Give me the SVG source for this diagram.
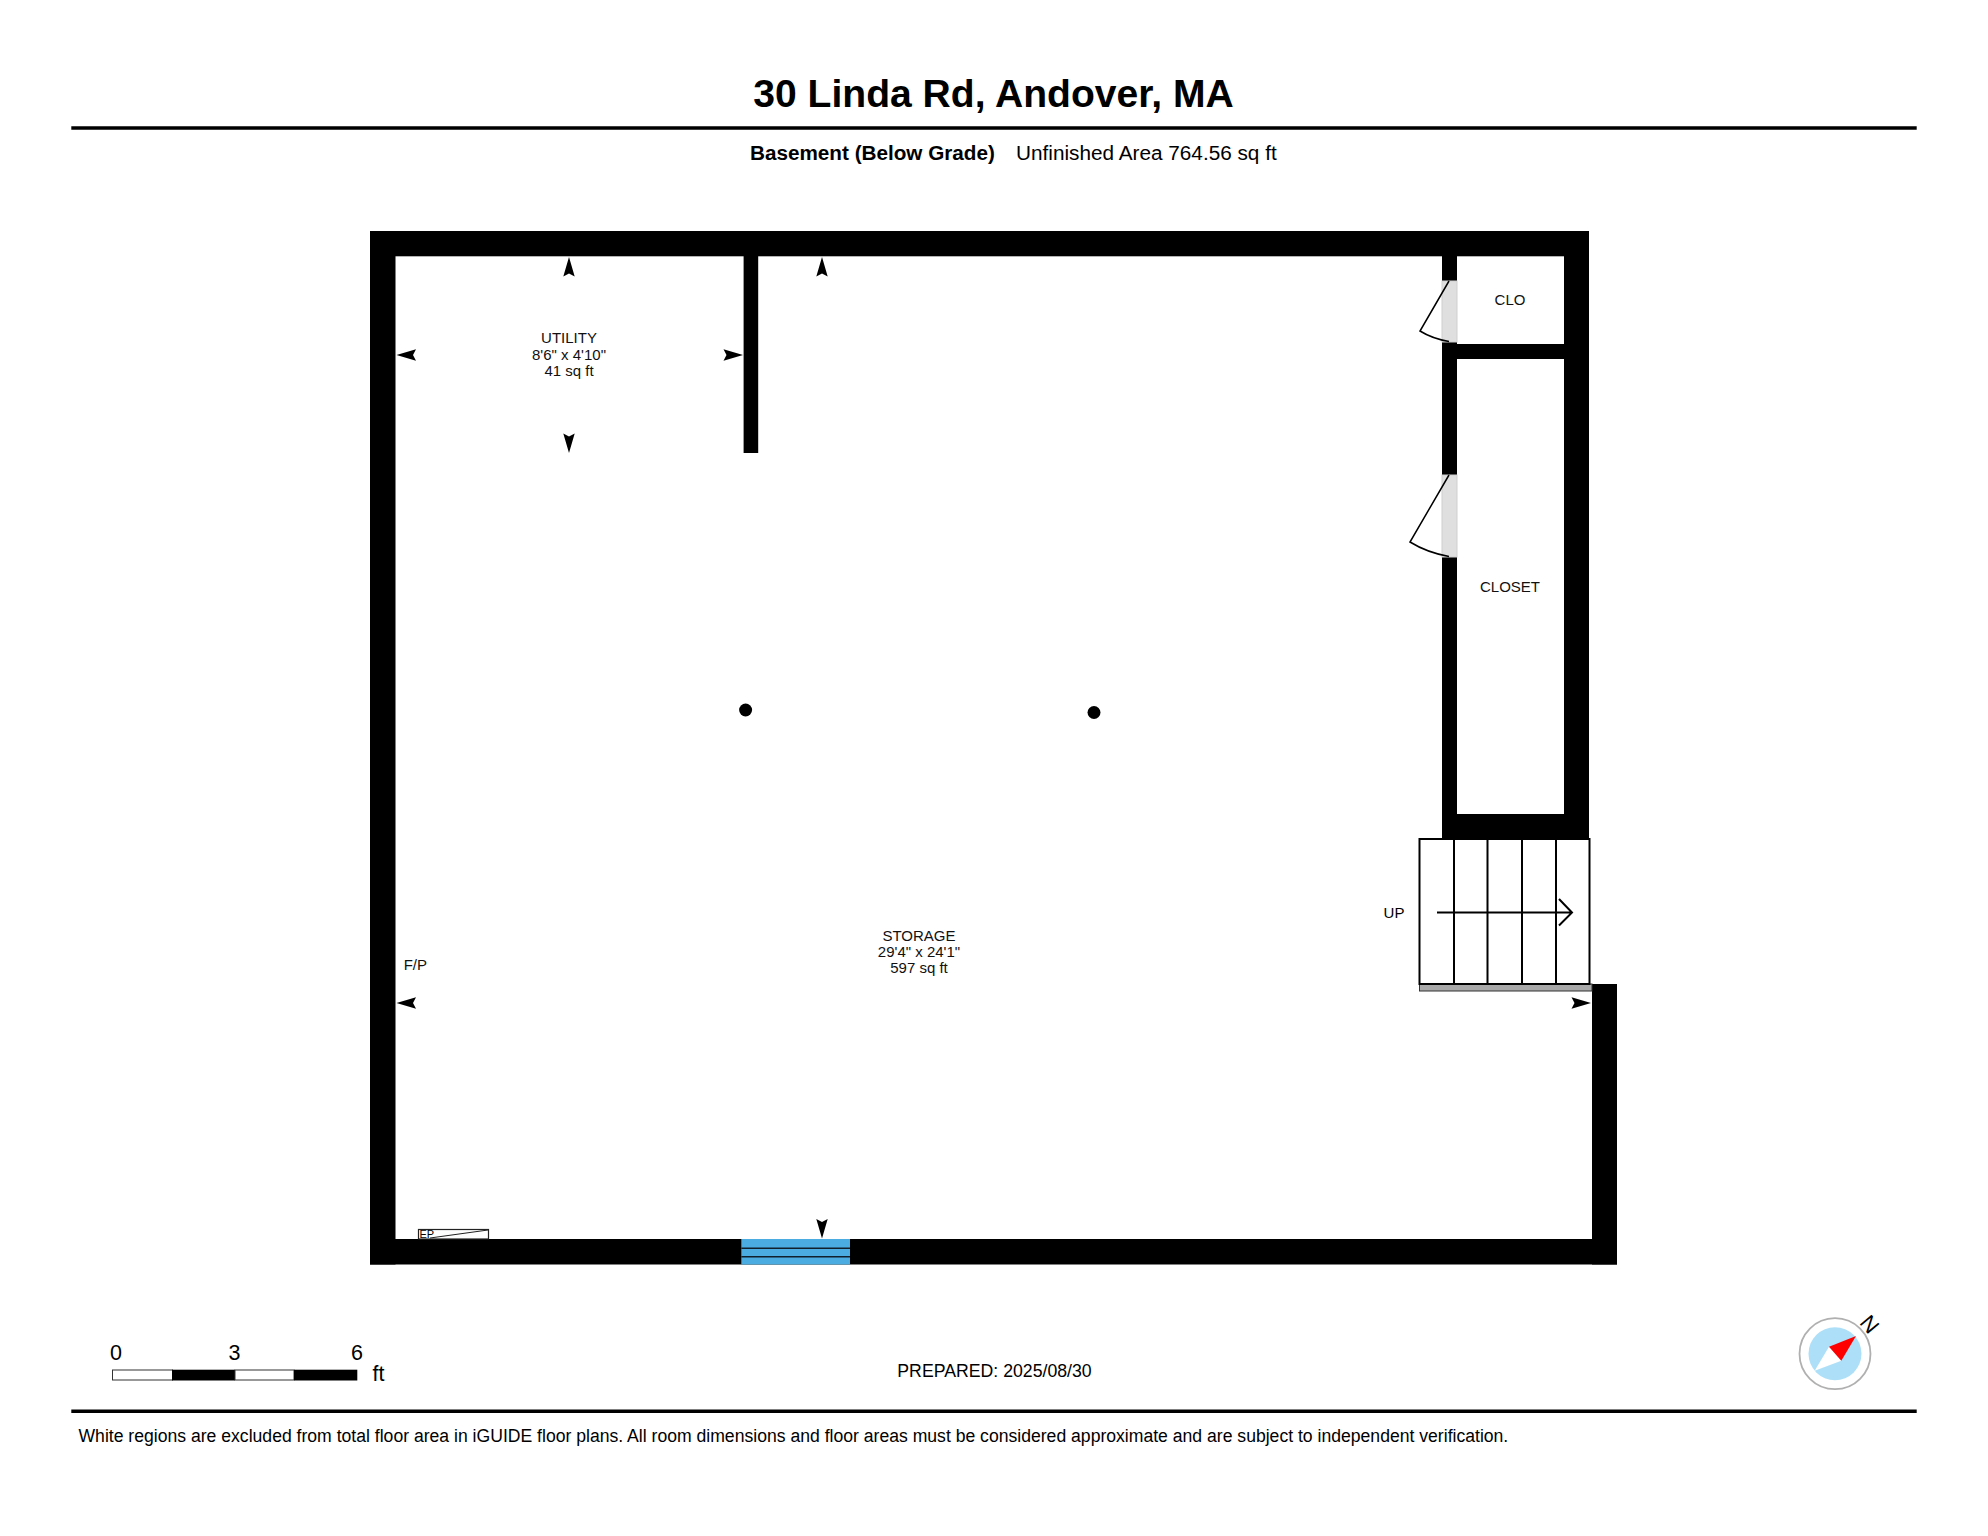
<svg xmlns="http://www.w3.org/2000/svg" width="1988" height="1536" viewBox="0 0 1988 1536">
<style>
text{font-family:"Liberation Sans",Arial,sans-serif;fill:#000}
.room{font-size:15px;text-anchor:middle;fill:#111}
.w{fill:#000}
.door{fill:#dfdfdf;stroke:#cfcfcf;stroke-width:1}
.leaf{fill:none;stroke:#000;stroke-width:1.5}
.st{fill:none;stroke:#000;stroke-width:2}
.rule{stroke:#000;fill:none}
</style>
<defs>
<path id="ah" d="M0 0L5.700 19.500L0 16.500L-5.700 19.500Z" fill="#000"/>
</defs>
<rect width="1988" height="1536" fill="#fff"/>
<g id="header">
<text x="993.500" y="106.500" font-size="39.100" font-weight="700" text-anchor="middle">30 Linda Rd, Andover, MA</text>
<line class="rule" x1="71.300" y1="128" x2="1916.700" y2="128" stroke-width="3.600"/>
<text x="750" y="160" font-size="20.700" font-weight="700">Basement (Below Grade)</text>
<text x="1016" y="160" font-size="20.750">Unfinished Area 764.56 sq ft</text>
</g>
<g id="walls">
<rect class="w" x="370" y="231" width="1219" height="25.300"/>
<rect class="w" x="370" y="231" width="25.500" height="1033.500"/>
<rect class="w" x="370" y="1239" width="1247" height="25.500"/>
<rect class="w" x="1564" y="231" width="25" height="608"/>
<rect class="w" x="1442" y="256" width="15" height="25"/>
<rect class="w" x="1442" y="342" width="15" height="133"/>
<rect class="w" x="1442" y="557" width="15" height="282"/>
<rect class="w" x="1442" y="344" width="122" height="15"/>
<rect class="w" x="1442" y="814" width="147" height="25"/>
<rect class="w" x="1592" y="984" width="25" height="280.500"/>
<rect class="w" x="743.600" y="256" width="14.600" height="197"/>
</g>
<g id="doors">
<rect class="door" x="1442" y="281" width="15" height="61"/>
<rect class="door" x="1442" y="475" width="15" height="82"/>
<path class="leaf" d="M1449 281L1420 331Q1432 338.500 1449 341.500"/>
<path class="leaf" d="M1449 475L1410 542Q1427 552.500 1449 556.500"/>
</g>
<g id="stairs">
<rect x="1419.500" y="984" width="172.500" height="7" fill="#a8a8a8" stroke="#333" stroke-width="1"/>
<rect class="st" x="1419.500" y="839" width="170" height="145"/>
<path class="st" d="M1454 839V984M1487.500 839V984M1522 839V984M1556 839V984"/>
<path class="st" d="M1437 912.500H1572M1559 899L1572 912.500L1559 925.500"/>
<text x="1394" y="917.500" font-size="15" text-anchor="middle">UP</text>
</g>
<g id="columns">
<circle cx="745.600" cy="710" r="6.500"/>
<circle cx="1094" cy="712.500" r="6.500"/>
</g>
<g id="window">
<rect x="741.300" y="1239" width="108.700" height="25.500" fill="#4aace0"/>
<path d="M741.300 1248.300H850M741.300 1256.700H850" stroke="#10202c" stroke-width="1.500" fill="none"/>
</g>
<g id="ep">
<rect x="418.500" y="1229.500" width="70" height="9.500" fill="#fff" stroke="#222" stroke-width="1.200"/>
<path d="M430 1238L488 1230" stroke="#222" stroke-width="1" fill="none"/>
<text x="419.500" y="1237.500" font-size="11" fill="#555">EP</text>
</g>
<g id="dimension-arrows">
<use href="#ah" transform="translate(569,257)"/>
<use href="#ah" transform="translate(569,453) rotate(180)"/>
<use href="#ah" transform="translate(396.500,355) rotate(-90)"/>
<use href="#ah" transform="translate(743,355) rotate(90)"/>
<use href="#ah" transform="translate(822,257)"/>
<use href="#ah" transform="translate(822,1238.500) rotate(180)"/>
<use href="#ah" transform="translate(396.500,1003) rotate(-90)"/>
<use href="#ah" transform="translate(1591,1003) rotate(90)"/>
</g>
<g id="room-utility">
<text class="room" x="569" y="343">UTILITY</text>
<text class="room" x="569" y="360">8'6" x 4'10"</text>
<text class="room" x="569" y="376">41 sq ft</text>
</g>
<g id="room-storage">
<text class="room" x="919" y="940.500">STORAGE</text>
<text class="room" x="919" y="956.500">29'4" x 24'1"</text>
<text class="room" x="919" y="972.500">597 sq ft</text>
</g>
<g id="room-clo"><text class="room" x="1510" y="305">CLO</text></g>
<g id="room-closet"><text class="room" x="1510" y="591.500">CLOSET</text></g>
<g id="label-fp"><text class="room" x="415.300" y="970">F/P</text></g>
<g id="scale">
<rect x="112.500" y="1370" width="60" height="10" fill="#fff" stroke="#333" stroke-width="1"/>
<rect x="172" y="1369.700" width="63" height="10.800" fill="#000"/>
<rect x="235" y="1370" width="59" height="10" fill="#fff" stroke="#333" stroke-width="1"/>
<rect x="294" y="1369.700" width="63.300" height="10.800" fill="#000"/>
<text x="116" y="1360" font-size="21.500" text-anchor="middle">0</text>
<text x="234.500" y="1360" font-size="21.500" text-anchor="middle">3</text>
<text x="357" y="1360" font-size="21.500" text-anchor="middle">6</text>
<text x="372.500" y="1381" font-size="21.500">ft</text>
</g>
<g id="compass">
<circle cx="1835" cy="1353.700" r="35.500" fill="#fff" stroke="#b0b0b0" stroke-width="1.800"/>
<circle cx="1835" cy="1353.700" r="26.500" fill="#ade0f8"/>
<path d="M1829 1346.700L1841.300 1360.700L1814.700 1370.700Z" fill="#fff"/>
<path d="M1856 1336L1829 1346.700L1841.300 1360.700Z" fill="#f00"/>
<text x="0" y="0" font-size="22" text-anchor="middle" transform="translate(1863.900,1329.100) rotate(50)">N</text>
</g>
<g id="footer">
<text x="994.500" y="1376.500" font-size="17.700" text-anchor="middle">PREPARED: 2025/08/30</text>
<line class="rule" x1="71.300" y1="1411.300" x2="1916.700" y2="1411.300" stroke-width="3.400"/>
<text x="78.500" y="1442" font-size="17.600">White regions are excluded from total floor area in iGUIDE floor plans. All room dimensions and floor areas must be considered approximate and are subject to independent verification.</text>
</g>
</svg>
